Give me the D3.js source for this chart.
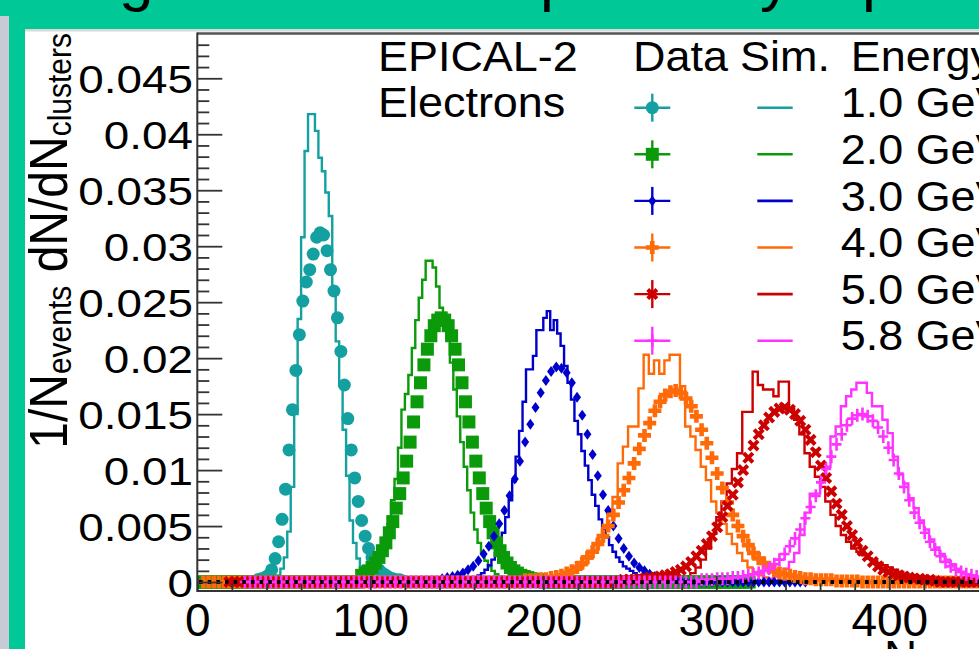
<!DOCTYPE html>
<html>
<head>
<meta charset="utf-8">
<script src="https://cdn.jsdelivr.net/npm/d3@7"></script>
<style>
  body { margin: 0; background: #c8cbd6; overflow: hidden; }
  svg { display: block; font-family: "Liberation Sans", Arial, Helvetica, sans-serif; }
</style>
</head>
<body>
<div id="chart"></div>
<script>
// values
var energyLabels = ["1.0 GeV", "2.0 GeV", "3.0 GeV", "4.0 GeV", "5.0 GeV", "5.8 GeV"];
var xTickValues = [0, 100, 200, 300, 400, 500];
var xTickLabels = ["0", "100", "200", "300", "400", "500"];
var yTickValues = [0, 0.005, 0.01, 0.015, 0.02, 0.025, 0.03, 0.035, 0.04, 0.045];
var yTickLabels = ["0", "0.005", "0.01", "0.015", "0.02", "0.025", "0.03", "0.035", "0.04", "0.045"];

// simulation histograms: first bin low edge, bin width, contents
var simStart = [44, 96, 158, 210, 279, 330];
var simWidth = [2, 2, 2, 3, 3, 3];
var sim1 = [0.0003, 0.0006, 0.0012, 0.0022, 0.0045, 0.0085, 0.0150, 0.0235, 0.0308, 0.0385, 0.0418, 0.0418, 0.0403, 0.0379, 0.0367, 0.0348, 0.0327, 0.0260, 0.0215, 0.0175, 0.0136, 0.0095, 0.0055, 0.0035, 0.0021, 0.0014, 0.0010, 0.0007, 0.0005, 0.0004, 0.0003, 0.0002, 0.0002, 0.0001];
var sim2 = [0.0002, 0.0004, 0.0006, 0.0010, 0.0016, 0.0025, 0.0037, 0.0052, 0.0073, 0.0092, 0.0120, 0.0154, 0.0168, 0.0185, 0.0209, 0.0234, 0.0254, 0.0270, 0.0287, 0.0287, 0.0281, 0.0264, 0.0245, 0.0236, 0.0218, 0.0196, 0.0172, 0.0148, 0.0125, 0.0103, 0.0082, 0.0062, 0.0047, 0.0035, 0.0026, 0.0019, 0.0014, 0.0010, 0.0007, 0.0005, 0.0003, 0.0002, 0.0001];
var sim3 = [0.0003, 0.0004, 0.0006, 0.0008, 0.0011, 0.0015, 0.0020, 0.0026, 0.0034, 0.0044, 0.0058, 0.0073, 0.0090, 0.0112, 0.0135, 0.0161, 0.0190, 0.0190, 0.0202, 0.0225, 0.0225, 0.0236, 0.0242, 0.0225, 0.0234, 0.0222, 0.0211, 0.0193, 0.0178, 0.0163, 0.0144, 0.0132, 0.0117, 0.0104, 0.0091, 0.0078, 0.0068, 0.0056, 0.0047, 0.0040, 0.0033, 0.0027, 0.0022, 0.0018, 0.0014, 0.0012, 0.0010, 0.0008, 0.0006, 0.0005, 0.0004, 0.0003, 0.0002, 0.0002, 0.0001];
var sim4 = [0.0003, 0.0005, 0.0008, 0.0011, 0.0015, 0.0021, 0.0028, 0.0037, 0.0048, 0.0061, 0.0076, 0.0106, 0.0121, 0.0139, 0.0139, 0.0173, 0.0203, 0.0186, 0.0198, 0.0186, 0.0198, 0.0203, 0.0203, 0.0175, 0.0139, 0.0130, 0.0118, 0.0103, 0.0091, 0.0072, 0.0062, 0.0052, 0.0043, 0.0034, 0.0026, 0.0019, 0.0013, 0.0009, 0.0006, 0.0004, 0.0002, 0.0001];
var sim5 = [0.0003, 0.0005, 0.0008, 0.0013, 0.0020, 0.0030, 0.0043, 0.0058, 0.0072, 0.0088, 0.0101, 0.0115, 0.0152, 0.0152, 0.0188, 0.0176, 0.0172, 0.0172, 0.0166, 0.0179, 0.0179, 0.0155, 0.0145, 0.0132, 0.0115, 0.0103, 0.0094, 0.0085, 0.0072, 0.0060, 0.0050, 0.0042, 0.0036, 0.0030, 0.0027, 0.0024, 0.0021, 0.0019, 0.0017, 0.0015, 0.0013, 0.0011, 0.0009, 0.0007, 0.0005, 0.0004, 0.0003, 0.0002, 0.0001];
var sim6 = [0.0003, 0.0005, 0.0008, 0.0012, 0.0018, 0.0026, 0.0042, 0.0062, 0.0079, 0.0079, 0.0090, 0.0103, 0.0130, 0.0139, 0.0157, 0.0166, 0.0172, 0.0178, 0.0178, 0.0169, 0.0157, 0.0157, 0.0145, 0.0133, 0.0112, 0.0096, 0.0088, 0.0075, 0.0066, 0.0055, 0.0047, 0.0038, 0.0031, 0.0025, 0.0020, 0.0016, 0.0012, 0.0009, 0.0007, 0.0005, 0.0004, 0.0003, 0.0002, 0.0002, 0.0001];

// data histograms: first bin low edge, bin width, drawn range, contents
var dataStart = [34, 94, 140, 188, 245, 290];
var dataWidth = [2, 2, 3, 3, 3, 3];
var dataLo = [0, 0, 0, 0, 15, 24];
var dataHi = [250, 320, 355, 500, 500, 500];
var data1 = [0.0002, 0.0003, 0.0004, 0.0006, 0.0011, 0.0021, 0.0036, 0.0056, 0.0083, 0.0118, 0.0154, 0.0189, 0.0221, 0.0251, 0.0268, 0.0279, 0.0293, 0.0308, 0.0312, 0.0310, 0.0296, 0.0279, 0.0260, 0.0236, 0.0206, 0.0176, 0.0146, 0.0118, 0.0093, 0.0072, 0.0055, 0.0041, 0.0030, 0.0022, 0.0016, 0.0011, 0.0008, 0.0006, 0.0004, 0.0003, 0.0002, 0.0002, 0.0001];
var data2 = [0.0006, 0.0008, 0.0010, 0.0013, 0.0017, 0.0022, 0.0028, 0.0035, 0.0044, 0.0054, 0.0066, 0.0079, 0.0093, 0.0108, 0.0125, 0.0143, 0.0161, 0.0178, 0.0194, 0.0208, 0.0220, 0.0229, 0.0234, 0.0236, 0.0234, 0.0229, 0.0220, 0.0208, 0.0194, 0.0178, 0.0161, 0.0143, 0.0125, 0.0108, 0.0093, 0.0079, 0.0066, 0.0054, 0.0044, 0.0035, 0.0028, 0.0022, 0.0017, 0.0013, 0.0010, 0.0008, 0.0006, 0.0005, 0.0004, 0.0003, 0.0002, 0.0002, 0.0001];
var data3 = [0.0003, 0.0004, 0.0005, 0.0006, 0.0008, 0.0011, 0.0014, 0.0019, 0.0025, 0.0032, 0.0041, 0.0052, 0.0064, 0.0077, 0.0092, 0.0108, 0.0125, 0.0141, 0.0156, 0.0169, 0.0180, 0.0188, 0.0192, 0.0191, 0.0187, 0.0178, 0.0165, 0.0149, 0.0132, 0.0114, 0.0095, 0.0078, 0.0064, 0.0050, 0.0039, 0.0030, 0.0023, 0.0017, 0.0013, 0.0010, 0.0007, 0.0005, 0.0004, 0.0003, 0.0002, 0.00015, 0.0001];
var data4 = [0.0002, 0.0002, 0.0002, 0.0003, 0.0003, 0.0004, 0.0005, 0.0006, 0.0008, 0.0010, 0.0013, 0.0017, 0.0022, 0.0027, 0.0034, 0.0041, 0.0050, 0.0060, 0.0071, 0.0082, 0.0093, 0.0106, 0.0119, 0.0131, 0.0142, 0.0153, 0.0161, 0.0167, 0.0170, 0.0171, 0.0169, 0.0164, 0.0157, 0.0148, 0.0136, 0.0124, 0.0111, 0.0097, 0.0084, 0.0071, 0.0060, 0.0050, 0.0041, 0.0033, 0.0026, 0.0021, 0.0017, 0.0013, 0.0010, 0.0008, 0.0007, 0.0006, 0.0005, 0.0004, 0.0003, 0.0003, 0.0002, 0.0002, 0.0002, 0.0002, 0.0001, 0.0001, 0.0001, 0.0001, 0.0001];
var data5 = [0.0002, 0.0002, 0.0002, 0.0003, 0.0003, 0.0004, 0.0004, 0.0005, 0.0006, 0.0007, 0.0009, 0.0011, 0.0014, 0.0018, 0.0023, 0.0028, 0.0034, 0.0041, 0.0049, 0.0058, 0.0068, 0.0078, 0.0089, 0.0100, 0.0111, 0.0122, 0.0132, 0.0140, 0.0147, 0.0152, 0.0155, 0.0156, 0.0154, 0.0150, 0.0144, 0.0136, 0.0127, 0.0116, 0.0104, 0.0093, 0.0081, 0.0070, 0.0060, 0.0050, 0.0042, 0.0035, 0.0028, 0.0023, 0.0018, 0.0014, 0.0011, 0.0009, 0.0007, 0.0006, 0.0005, 0.0004, 0.0003, 0.0003, 0.0002, 0.0002, 0.0001];
var data6 = [0.0002, 0.0002, 0.0002, 0.0003, 0.0003, 0.0003, 0.0004, 0.0004, 0.0005, 0.0006, 0.0007, 0.0008, 0.0010, 0.0012, 0.0016, 0.0020, 0.0025, 0.0032, 0.0039, 0.0047, 0.0057, 0.0067, 0.0077, 0.0089, 0.0101, 0.0112, 0.0123, 0.0132, 0.0140, 0.0146, 0.0149, 0.0150, 0.0148, 0.0144, 0.0138, 0.0130, 0.0120, 0.0109, 0.0097, 0.0085, 0.0073, 0.0062, 0.0053, 0.0044, 0.0036, 0.0029, 0.0023, 0.0018, 0.0014, 0.0011, 0.0009, 0.0007, 0.0006, 0.0005, 0.0004, 0.0003, 0.0003, 0.0002, 0.0002, 0.0001];

var simSeries = [sim1, sim2, sim3, sim4, sim5, sim6];
var dataSeries = [data1, data2, data3, data4, data5, data6];

// styles
var colors = ["#14a0a0", "#0a9a0a", "#0000cc", "#ff6a08", "#cc0000", "#ff33ff"];
var markers = ["circle", "square", "diamond", "cross", "xstar", "plus"];

var W = 979, H = 649;
var svg = d3.select("#chart").append("svg")
    .attr("width", W)
    .attr("height", H);

// slide background
svg.append("rect").attr("width", W).attr("height", H).attr("fill", "#c8cbd6");
svg.append("rect").attr("x", 0).attr("y", 0).attr("width", W).attr("height", 16).attr("fill", "#00c896");
svg.append("rect").attr("x", 9).attr("y", -30).attr("width", W + 40).attr("height", H + 60)
    .attr("rx", 16).attr("fill", "#00c896");
svg.append("rect").attr("x", 25).attr("y", 29).attr("width", W).attr("height", H).attr("fill", "#ffffff");
svg.append("rect").attr("x", 25).attr("y", 29).attr("width", W).attr("height", 2.5).attr("fill", "#d9d9d9");

// slide title, only descenders show
var titleBits = [["g", 119], ["p", 540], ["y", 760], ["p", 862]];
titleBits.forEach(function (t) {
    svg.append("text").attr("x", t[1]).attr("y", -1)
        .style("font-size", "62px").attr("fill", "#000").text(t[0]);
});

// scales
var x = d3.scaleLinear().domain([0, 500]).range([197.3, 1062.3]);
var y = d3.scaleLinear().domain([-0.0008, 0.049]).range([591, 33.5]);

var plotTop = y.range()[1], plotBottom = y.range()[0], plotLeft = x.range()[0];

svg.append("clipPath").attr("id", "plotclip")
    .append("rect").attr("x", plotLeft).attr("y", plotTop)
    .attr("width", W - plotLeft).attr("height", plotBottom - plotTop);

var plot = svg.append("g").attr("clip-path", "url(#plotclip)");

// simulation outlines
var line = d3.line();
simSeries.forEach(function (arr, i) {
    var s = simStart[i], w = simWidth[i];
    var pts = [[x(s), y(0)]];
    arr.forEach(function (v, k) {
        pts.push([x(s + k * w), y(v)]);
        pts.push([x(s + (k + 1) * w), y(v)]);
    });
    pts.push([x(s + arr.length * w), y(0)]);
    plot.append("path")
        .attr("d", line(pts))
        .attr("fill", "none")
        .attr("stroke", colors[i])
        .attr("stroke-width", 2.4)
        .attr("stroke-linejoin", "miter");
});

function markerPath(kind) {
    if (kind === "square") return "M-6.5,-6.5h13v13h-13z";
    if (kind === "diamond") return "M0,-5.5L4,0L0,5.5L-4,0Z";
    if (kind === "cross") return "M-2.3,-6.5h4.6v4.2h4.2v4.6h-4.2v4.2h-4.6v-4.2h-4.2v-4.6h4.2z";
    if (kind === "xstar") return "M-2,-6.5h4v4.5h4.5v4h-4.5v4.5h-4v-4.5h-4.5v-4h4.5z";
    if (kind === "plus") return "M-5,0h10M0,-6.5v13";
    return null;
}

function drawMarker(sel, kind, color) {
    if (kind === "circle") {
        sel.append("circle").attr("r", 6.5).attr("fill", color);
    } else if (kind === "plus") {
        sel.append("path").attr("d", markerPath(kind))
            .attr("fill", "none").attr("stroke", color).attr("stroke-width", 2.6);
    } else {
        sel.append("path").attr("d", markerPath(kind))
            .attr("fill", color)
            .attr("transform", kind === "xstar" ? "rotate(45)" : null);
    }
}

// data markers
dataSeries.forEach(function (arr, i) {
    var s = dataStart[i], w = dataWidth[i];
    var bins = [];
    var k0 = Math.ceil((dataLo[i] - s) / w);
    for (var k = k0; s + k * w + w <= dataHi[i]; k++) {
        var v = (k >= 0 && k < arr.length) ? arr[k] : 0;
        bins.push({c: s + k * w + w / 2, v: v});
    }
    var g = plot.append("g").attr("class", "data" + (i + 1));
    var pts = g.selectAll("g")
        .data(bins)
        .enter()
        .append("g")
        .attr("transform", function (d) {
            return "translate(" + x(d.c) + "," + y(d.v) + ")";
        });
    drawMarker(pts, markers[i], colors[i]);
});

// dotted zero line
plot.append("line")
    .attr("x1", x(1)).attr("x2", W)
    .attr("y1", y(0)).attr("y2", y(0))
    .attr("stroke", "#000").attr("stroke-width", 4)
    .attr("stroke-dasharray", "3.6 5.05");

// frame
svg.append("line").attr("x1", plotLeft).attr("x2", W).attr("y1", plotTop).attr("y2", plotTop)
    .attr("stroke", "#555").attr("stroke-width", 2.4);
svg.append("line").attr("x1", plotLeft).attr("x2", plotLeft).attr("y1", plotTop - 1).attr("y2", plotBottom + 1)
    .attr("stroke", "#333").attr("stroke-width", 2);
svg.append("line").attr("x1", plotLeft).attr("x2", W).attr("y1", plotBottom).attr("y2", plotBottom)
    .attr("stroke", "#333").attr("stroke-width", 2);

// y axis ticks
var yMinor = d3.range(1, 49).map(function (d) { return d / 1000; })
    .filter(function (d) { return Math.round(d * 1000) % 5 !== 0; });
var yAxisMinor = d3.axisLeft(y).tickValues(yMinor).tickSize(-12).tickFormat("");
var yAxis = d3.axisLeft(y).tickValues(yTickValues).tickSize(-25).tickPadding(0)
    .tickFormat(function (d, i) { return yTickLabels[i]; });

var gyMinor = svg.append("g").attr("transform", "translate(" + plotLeft + ",0)").call(yAxisMinor);
var gy = svg.append("g").attr("transform", "translate(" + plotLeft + ",0)").call(yAxis);
[gyMinor, gy].forEach(function (g) {
    g.select(".domain").remove();
    g.selectAll(".tick line").attr("stroke", "#333").attr("stroke-width", 1.8);
});
gy.selectAll(".tick text")
    .attr("x", -4.3 / 1.16)
    .attr("dy", "0.37em")
    .attr("transform", "scale(1.16,1)")
    .attr("fill", "#000")
    .style("font-size", "39.5px")
    .style("font-family", "'Liberation Sans', Arial, sans-serif");

// x axis ticks
var xMinor = d3.range(0, 501, 20).filter(function (d) { return d % 100 !== 0; });
var xAxisMinor = d3.axisBottom(x).tickValues(xMinor).tickSize(-7.5).tickFormat("");
var xAxis = d3.axisBottom(x).tickValues(xTickValues).tickSize(-15).tickPadding(12.3)
    .tickFormat(function (d, i) { return xTickLabels[i]; });
var gxMinor = svg.append("g").attr("transform", "translate(0," + plotBottom + ")").call(xAxisMinor);
var gx = svg.append("g").attr("transform", "translate(0," + plotBottom + ")").call(xAxis);
[gxMinor, gx].forEach(function (g) {
    g.select(".domain").remove();
    g.selectAll(".tick line").attr("stroke", "#333").attr("stroke-width", 1.8);
});
gx.selectAll(".tick text")
    .attr("fill", "#000")
    .style("font-size", "46px")
    .style("font-family", "'Liberation Sans', Arial, sans-serif");

// x axis title (cut by the bottom edge)
var xt = svg.append("text").attr("x", 884).attr("y", 673).style("font-size", "46px").attr("fill", "#000");
xt.append("tspan").text("N");
xt.append("tspan").attr("dy", 6).style("font-size", "30px").text("clusters");

// y axis title
var yt = svg.append("text")
    .attr("transform", "translate(67,33) scale(1.11,1) rotate(-90)")
    .attr("text-anchor", "end")
    .attr("fill", "#000")
    .style("font-size", "48px");
yt.append("tspan").text("1/N");
yt.append("tspan").attr("dy", 4).style("font-size", "30px").text("events");
yt.append("tspan").attr("dy", -4).text(" dN/dN");
yt.append("tspan").attr("dy", 4).style("font-size", "30px").text("clusters");

// stretched text helper
function sText(str, px, py, size, sx) {
    return svg.append("text")
        .attr("transform", "translate(" + px + "," + py + ") scale(" + sx + ",1)")
        .attr("fill", "#000")
        .style("font-size", size + "px")
        .text(str);
}

sText("EPICAL-2", 378, 71, 42, 1.07);
sText("Electrons", 378, 117, 42, 1.07);
sText("Data", 633, 71, 42, 1.07);
sText("Sim.", 740, 71, 42, 1.07);
sText("Energy", 850.7, 71, 42, 1.07);

// legend rows
var rowTop = 107.7, rowStep = 46.6;
energyLabels.forEach(function (lab, i) {
    var ry = rowTop + i * rowStep;
    var m = svg.append("g").attr("transform", "translate(652.3," + ry + ")");
    m.append("line").attr("x1", -18).attr("x2", 18).attr("stroke", colors[i]).attr("stroke-width", 2.4);
    m.append("line").attr("y1", -14).attr("y2", 14).attr("stroke", colors[i]).attr("stroke-width", 2.4);
    drawMarker(m, markers[i], colors[i]);
    svg.append("line").attr("x1", 757.3).attr("x2", 792.7).attr("y1", ry).attr("y2", ry)
        .attr("stroke", colors[i]).attr("stroke-width", 2.6);
    sText(lab, 840.7, ry + 9.6, 42, 1.07);
});
</script>
</body>
</html>
